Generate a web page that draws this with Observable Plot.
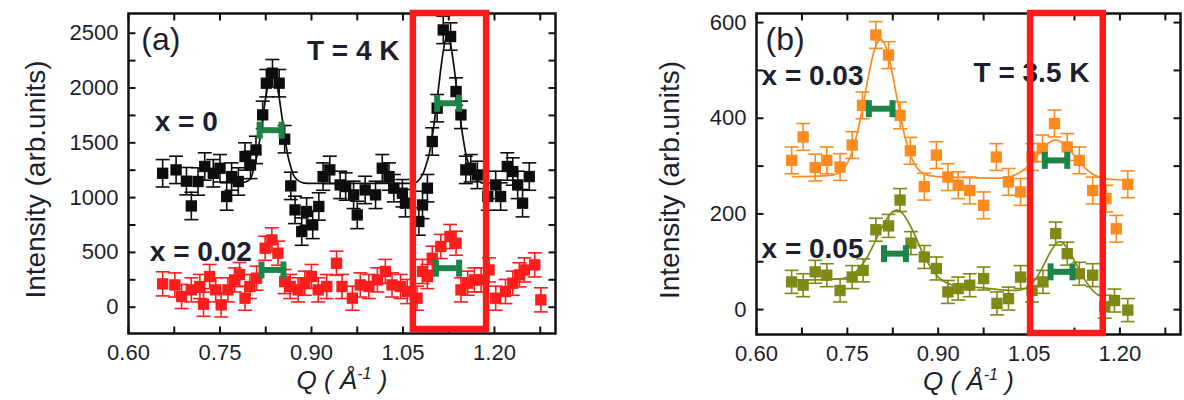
<!DOCTYPE html>
<html><head><meta charset="utf-8">
<script src="https://cdn.jsdelivr.net/npm/d3@7"></script>
<script src="https://cdn.jsdelivr.net/npm/@observablehq/plot@0.6"></script>
<style>
html,body{margin:0;padding:0;background:#fff;}
#wrap{display:flex;width:1184px;height:400px;overflow:hidden;}
</style></head><body><div id="wrap"></div>
<script>
// ---------- Panel (a): T = 4 K ----------
const Q_X0 = [0.656,0.678,0.695,0.703,0.714,0.725,0.739,0.750,0.761,0.769,0.780,0.791,0.800,0.809,0.820,0.826,0.836,0.847,0.856,0.866,0.873,0.884,0.892,0.902,0.912,0.919,0.930,0.947,0.956,0.969,0.975,0.988,1.005,1.016,1.027,1.035,1.049,1.054,1.076,1.082,1.090,1.098,1.106,1.116,1.128,1.137,1.145,1.153,1.161,1.172,1.189,1.202,1.210,1.221,1.230,1.238,1.246,1.257];
const I_X0 = [1222,1253,1150,924,1147,1284,1222,1268,1010,1192,1147,1375,1298,1435,1755,2044,2135,2044,1533,1107,888,690,873,751,919,1192,1253,1116,1101,1025,842,1070,1025,1268,1192,1086,1040,949,782,933,1086,1512,1816,2530,2470,1968,1755,1253,1268,1207,1010,1116,1010,1284,1238,1116,949,1192];
const ERR_X0 = 125;
const FIT_Q_X0 = [0.776,0.79,0.80,0.806,0.811,0.816,0.821,0.826,0.831,0.836,0.841,0.846,0.851,0.856,0.861,0.866,0.871,0.876,0.886,0.90,0.95,1.00,1.05,1.07,1.078,1.083,1.088,1.093,1.098,1.103,1.108,1.113,1.118,1.123,1.128,1.133,1.138,1.143,1.148,1.153,1.158,1.163,1.168,1.18];
const FIT_I_X0 = [1130,1140,1170,1280,1390,1560,1760,1950,2090,2150,2090,1950,1760,1560,1390,1280,1200,1165,1135,1130,1130,1130,1130,1135,1175,1220,1300,1400,1560,1760,1990,2220,2400,2480,2400,2220,1990,1760,1560,1400,1300,1220,1175,1135];

const Q_X002 = [0.656,0.676,0.687,0.703,0.717,0.723,0.733,0.743,0.752,0.763,0.774,0.782,0.791,0.799,0.810,0.824,0.835,0.845,0.856,0.865,0.878,0.889,0.900,0.911,0.925,0.941,0.950,0.967,0.980,0.994,1.008,1.021,1.032,1.046,1.057,1.073,1.082,1.090,1.098,1.112,1.127,1.137,1.145,1.156,1.167,1.178,1.191,1.202,1.218,1.230,1.241,1.249,1.266,1.276];
const I_X002 = [213,203,98,158,189,27,280,158,21,158,249,298,82,189,265,538,614,493,234,189,158,219,280,158,189,401,189,82,203,189,249,326,203,189,143,82,326,280,447,554,645,584,158,219,249,249,340,82,143,219,295,340,386,67];
const ERR_X002 = 110;

// FWHM (resolution) bars: start Q, end Q, intensity
const FW_A_Q1 = [0.815,1.106,0.818,1.104];
const FW_A_Q2 = [0.851,1.142,0.854,1.142];
const FW_A_I  = [1615,1861,340,356];

// ---------- Panel (b): T = 3.5 K ----------
const Q_X003 = [0.658,0.677,0.697,0.716,0.738,0.758,0.775,0.797,0.818,0.837,0.854,0.877,0.897,0.916,0.933,0.952,0.975,0.996,1.016,1.036,1.055,1.072,1.092,1.113,1.133,1.155,1.177,1.194,1.213];
const I_X003 = [312,361,297,312,298,344,427,574,532,406,332,257,323,277,260,249,218,319,267,246,319,337,389,340,312,249,232,169,262];
const ERR_X003 = 28;
const FIT_Q_X003 = [0.66,0.70,0.725,0.735,0.745,0.755,0.765,0.775,0.785,0.795,0.805,0.815,0.825,0.835,0.845,0.855,0.865,0.875,0.885,0.90,0.95,1.00,1.014,1.024,1.034,1.044,1.054,1.064,1.074,1.084,1.094,1.104,1.114,1.124,1.134,1.144,1.154,1.164,1.174,1.19,1.21];
const FIT_I_X003 = [278,279,281,285,296,320,362,421,489,544,565,544,489,421,362,320,296,285,280,278,276,275,277,280,286,295,307,323,339,350,355,350,339,323,307,294,284,278,274,272,271];

const Q_X005 = [0.658,0.677,0.697,0.716,0.738,0.758,0.776,0.797,0.818,0.837,0.855,0.877,0.897,0.916,0.933,0.952,0.975,0.997,1.016,1.036,1.055,1.073,1.094,1.113,1.133,1.155,1.175,1.191,1.213];
const I_X005 = [58,51,79,72,40,68,82,167,175,229,139,110,86,37,44,51,65,13,23,68,40,58,159,117,75,72,6,19,-1];
const ERR_X005 = 24;
const FIT_Q_X005 = [0.66,0.70,0.742,0.752,0.762,0.772,0.782,0.792,0.802,0.812,0.822,0.832,0.842,0.852,0.862,0.872,0.882,0.892,0.902,0.912,0.922,0.94,0.97,1.00,1.03,1.045,1.055,1.065,1.075,1.085,1.095,1.10,1.105,1.115,1.125,1.135,1.145,1.155,1.165,1.175];
const FIT_I_X005 = [62,62,65,69,77,90,108,132,159,183,201,208,200,180,154,125,100,80,66,57,52,48,46,42,40,45,55,72,95,120,138,142,140,125,102,78,57,40,30,27];

const FW_B_Q1 = [0.7855,1.076,0.8105,1.0855];
const FW_B_Q2 = [0.8245,1.113,0.8467,1.1217];
const FW_B_I  = [420,312,117,79];

// highlighted Q windows (red boxes)
const BOX_A = [1.067,1.187];
const BOX_B = [1.0525,1.1725];

// ticks
const X_TICKS = [0.6,0.675,0.75,0.825,0.9,0.975,1.05,1.125,1.2,1.275];
const X_LABELS = [0.6,0.75,0.9,1.05,1.2];
const Y_TICKS_A = [0,250,500,750,1000,1250,1500,1750,2000,2250,2500];
const Y_LABELS_A = [0,500,1000,1500,2000,2500];
const Y_TICKS_B = [0,100,200,300,400,500,600];
const Y_LABELS_B = [0,200,400,600];

// ---------- helpers ----------
const rows = (qs, is) => qs.map((q, i) => ({q, I: is[i]}));
const fwRows = (a, b, c) => a.map((q1, i) => ({q1, q2: b[i], I: c[i]}));

const hcap = {draw(c){ c.moveTo(-7,0); c.lineTo(7,0); }};
const tUp = {draw(c){ c.moveTo(0,0); c.lineTo(0,-7); }};
const tDown = {draw(c){ c.moveTo(0,0); c.lineTo(0,7); }};
const tRight = {draw(c){ c.moveTo(0,0); c.lineTo(7,0); }};
const tLeft = {draw(c){ c.moveTo(0,0); c.lineTo(-7,0); }};
const barEnd = {draw(c){ c.rect(-3,-8.5,6,17); }};

const INK = "#1b1f2e";
const GREEN = "#1d8449";
const FONT = "'Liberation Sans', Arial, sans-serif";
const XTITLE = "Q ( Å-1 )";

function panel(cfg) {
  const marks = [];
  marks.push(Plot.dot(X_TICKS, {x: d => d, frameAnchor: "bottom", symbol: tUp, stroke: "#111", strokeWidth: 2, fill: "none"}));
  marks.push(Plot.dot(X_TICKS, {x: d => d, frameAnchor: "top", symbol: tDown, stroke: "#111", strokeWidth: 2, fill: "none"}));
  marks.push(Plot.dot(cfg.yTicks, {y: d => d, frameAnchor: "left", symbol: tRight, stroke: "#111", strokeWidth: 2, fill: "none"}));
  marks.push(Plot.dot(cfg.yTicks, {y: d => d, frameAnchor: "right", symbol: tLeft, stroke: "#111", strokeWidth: 2, fill: "none"}));
  marks.push(Plot.axisX({ticks: X_LABELS, tickFormat: d3.format(".2f"), tickSize: 0, tickPadding: 11, fontSize: 22, fill: INK, label: null}));
  marks.push(Plot.axisY({ticks: cfg.yLabels, tickFormat: d3.format("d"), tickSize: 0, tickPadding: 10, fontSize: 22, fill: INK, label: null}));
  for (const s of cfg.series) {
    if (s.fit) marks.push(Plot.line(s.fit, {x: "q", y: "I", stroke: s.color, strokeWidth: 1.7, curve: "monotone-x"}));
    marks.push(Plot.ruleX(s.pts, {x: "q", y1: d => d.I - s.err, y2: d => d.I + s.err, stroke: s.color, strokeWidth: 1.6}));
    marks.push(Plot.dot(s.pts, {x: "q", y: d => d.I + s.err, symbol: hcap, stroke: s.color, strokeWidth: 1.6, fill: "none"}));
    marks.push(Plot.dot(s.pts, {x: "q", y: d => d.I - s.err, symbol: hcap, stroke: s.color, strokeWidth: 1.6, fill: "none"}));
    marks.push(Plot.dot(s.pts, {x: "q", y: "I", symbol: "square", r: 6.4, fill: s.color, stroke: "none"}));
  }
  marks.push(Plot.ruleY(cfg.fw, {x1: "q1", x2: "q2", y: "I", stroke: GREEN, strokeWidth: 6}));
  marks.push(Plot.dot(cfg.fw, {x: "q1", y: "I", symbol: barEnd, fill: GREEN, stroke: "none"}));
  marks.push(Plot.dot(cfg.fw, {x: "q2", y: "I", symbol: barEnd, fill: GREEN, stroke: "none"}));
  for (const t of cfg.texts) {
    marks.push(Plot.text([t.text], {x: [t.x], y: [t.y], text: d => d, textAnchor: "start", fontSize: t.size, fontWeight: t.bold ? "bold" : "normal", fill: INK}));
  }
  marks.push(Plot.text(["Intensity (arb.units)"], {text: d => d, frameAnchor: "left", textAnchor: "middle", dx: cfg.yTitleDx, dy: 6, rotate: -90, fontSize: 28, fill: INK}));
  marks.push(Plot.text([XTITLE], {text: d => d, frameAnchor: "bottom", textAnchor: "middle", dy: 55, fontSize: 26, fontStyle: "italic", fill: INK}));
  marks.push(Plot.frame({stroke: "#111", strokeWidth: 2.5}));
  marks.push(Plot.rect([cfg.box], {x1: d => d[0], x2: d => d[1], stroke: "#ff1a1a", strokeWidth: 6.5, fill: "none", insetBottom: cfg.boxInsetBottom}));
  const svg = Plot.plot({
    width: cfg.width, height: 400,
    marginLeft: cfg.marginLeft, marginRight: cfg.marginRight, marginTop: 13, marginBottom: cfg.marginBottom,
    x: {domain: [0.6, 1.3]},
    y: {domain: cfg.yDomain},
    style: {fontFamily: FONT, background: "white", color: INK, overflow: "visible"},
    marks
  });
  // superscript "-1" in the Q axis title
  svg.querySelectorAll("text").forEach(el => {
    if (el.textContent === XTITLE) {
      el.textContent = "";
      const ns = "http://www.w3.org/2000/svg";
      const a = document.createElementNS(ns, "tspan"); a.textContent = "Q ( Å";
      const b = document.createElementNS(ns, "tspan"); b.textContent = "-1"; b.setAttribute("dy", "-10"); b.setAttribute("font-size", "16");
      const c = document.createElementNS(ns, "tspan"); c.textContent = " )"; c.setAttribute("dy", "10");
      el.append(a, b, c);
    }
  });
  return svg;
}

const plotA = panel({
  width: 590, marginLeft: 128, marginRight: 35, marginBottom: 67,
  yDomain: [-240, 2680], yTicks: Y_TICKS_A, yLabels: Y_LABELS_A, yTitleDx: -92,
  series: [
    {pts: rows(Q_X0, I_X0), err: ERR_X0, color: "#0d0d0d", fit: rows(FIT_Q_X0, FIT_I_X0)},
    {pts: rows(Q_X002, I_X002), err: ERR_X002, color: "#ff1c1c", fit: null}
  ],
  fw: fwRows(FW_A_Q1, FW_A_Q2, FW_A_I),
  box: BOX_A, boxInsetBottom: 4,
  texts: [
    {text: "(a)", x: 0.621, y: 2436, size: 32},
    {text: "T = 4 K", x: 0.8926, y: 2336, size: 28, bold: true},
    {text: "x = 0", x: 0.643, y: 1692, size: 28, bold: true},
    {text: "x = 0.02", x: 0.635, y: 502, size: 28, bold: true}
  ]
});

const plotB = panel({
  width: 594, marginLeft: 166, marginRight: 4, marginBottom: 66,
  yDomain: [-52, 619], yTicks: Y_TICKS_B, yLabels: Y_LABELS_B, yTitleDx: -86,
  series: [
    {pts: rows(Q_X003, I_X003), err: ERR_X003, color: "#ff8a1e", fit: rows(FIT_Q_X003, FIT_I_X003)},
    {pts: rows(Q_X005, I_X005), err: ERR_X005, color: "#7e8a14", fit: rows(FIT_Q_X005, FIT_I_X005)}
  ],
  fw: fwRows(FW_B_Q1, FW_B_Q2, FW_B_I),
  box: BOX_B, boxInsetBottom: 1,
  texts: [
    {text: "(b)", x: 0.615, y: 565, size: 32},
    {text: "x = 0.03", x: 0.6083, y: 489, size: 28, bold: true},
    {text: "T = 3.5 K", x: 0.9583, y: 494, size: 28, bold: true},
    {text: "x = 0.05", x: 0.6083, y: 127, size: 28, bold: true}
  ]
});

document.getElementById("wrap").append(plotA, plotB);
</script>
</body></html>
